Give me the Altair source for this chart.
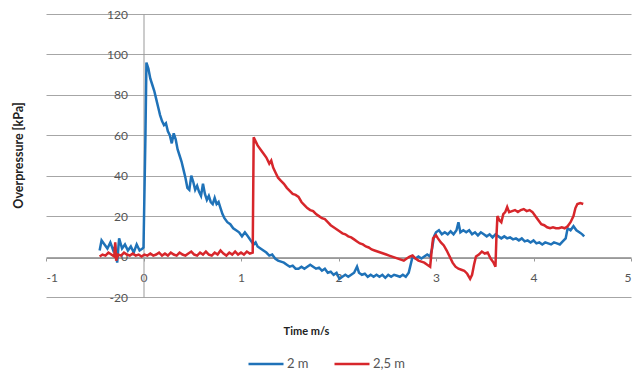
import altair as alt
import pandas as pd

# ---- data ----
t_2m = [-0.45, -0.43, -0.40, -0.37, -0.34, -0.31, -0.29, -0.27, -0.25, -0.22, -0.19, -0.16, -0.13, -0.10, -0.07, -0.04, -0.01, 0.00, 0.02, 0.03,
        0.05, 0.07, 0.09, 0.11, 0.13, 0.15, 0.17, 0.19, 0.21, 0.23, 0.25, 0.27, 0.29, 0.31, 0.33, 0.35, 0.37, 0.39, 0.41, 0.43,
        0.45, 0.47, 0.49, 0.51, 0.53, 0.55, 0.57, 0.59, 0.61, 0.63, 0.65, 0.67, 0.69, 0.71, 0.73, 0.75, 0.77, 0.79, 0.81, 0.83,
        0.86, 0.89, 0.92, 0.95, 0.98, 1.01, 1.04, 1.07, 1.10, 1.13, 1.15, 1.17, 1.20, 1.23, 1.26, 1.29, 1.32, 1.35, 1.38, 1.41,
        1.44, 1.47, 1.50, 1.53, 1.56, 1.59, 1.62, 1.65, 1.68, 1.71, 1.74, 1.77, 1.80, 1.83, 1.86, 1.89, 1.92, 1.95, 1.98, 2.01,
        2.04, 2.07, 2.10, 2.13, 2.16, 2.19, 2.21, 2.24, 2.27, 2.30, 2.33, 2.36, 2.39, 2.42, 2.45, 2.48, 2.51, 2.54, 2.57, 2.60,
        2.63, 2.66, 2.69, 2.72, 2.74, 2.76, 2.79, 2.82, 2.85, 2.88, 2.91, 2.94, 2.96, 2.98, 3.00, 3.03, 3.06, 3.09, 3.12, 3.15,
        3.18, 3.21, 3.23, 3.25, 3.28, 3.31, 3.34, 3.37, 3.40, 3.43, 3.46, 3.49, 3.52, 3.55, 3.58, 3.61, 3.64, 3.67, 3.70, 3.73,
        3.76, 3.79, 3.82, 3.85, 3.88, 3.91, 3.94, 3.97, 4.00, 4.03, 4.06, 4.09, 4.12, 4.15, 4.18, 4.21, 4.24, 4.27, 4.30, 4.33,
        4.35, 4.38, 4.41, 4.44, 4.47, 4.50, 4.52]
p_2m = [3, 8, 6, 4, 7, 3, 5, -3, 9, 4, 6, 3, 5, 2, 6, 3, 4, 4.5, 60, 96,
        93, 88, 85, 82, 78, 74, 70, 67, 65, 66, 62, 60, 56, 61, 58, 53, 50, 47, 43, 39,
        34, 33, 40, 37, 33, 35, 32, 30, 36, 31, 28, 30, 27, 26, 29, 26, 27, 24, 21, 19,
        17, 16, 14, 13, 12, 10, 12, 10, 8, 6, 7, 5, 4, 3, 2, 0.5, 1, -1, -2, -2.5,
        -3, -4, -5, -4.5, -6, -6, -5, -6, -5, -4, -5, -6, -5.5, -7, -6, -8, -7.5, -9, -8, -11,
        -10, -9, -10, -9, -8, -5, -8, -9, -8.5, -10, -9, -10, -9, -10, -9, -10.5, -9, -10, -9, -9.5,
        -10, -9, -10, -8, -4, 0, -1, 0, -1, 0, 1, 0, 4, 10, 12, 13, 11, 12, 11, 12.5,
        11, 13, 17, 12, 13, 12, 13, 11, 12, 10.5, 12, 11, 10, 11, 9.5, 11, 10, 9, 10, 9,
        9.5, 8.5, 9, 8, 9, 7.5, 8, 7, 8, 6.5, 7, 6, 7, 6.5, 6, 7, 6.5, 6, 7.5, 9,
        14, 13, 15, 13, 12, 11, 10]

t_25m = [-0.45, -0.42, -0.39, -0.36, -0.33, -0.30, -0.29, -0.28, -0.26, -0.23, -0.20, -0.17, -0.14, -0.11, -0.08, -0.05, -0.02,
         0.01, 0.04, 0.07, 0.10, 0.13, 0.16, 0.19, 0.22, 0.25, 0.28, 0.31, 0.34, 0.37, 0.40, 0.43, 0.46, 0.49, 0.52, 0.55,
         0.58, 0.61, 0.64, 0.67, 0.70, 0.73, 0.76, 0.79, 0.82, 0.85, 0.88, 0.91, 0.94, 0.97, 1.00, 1.03, 1.06, 1.09, 1.12,
         1.13, 1.15, 1.17, 1.20, 1.23, 1.26, 1.29, 1.31, 1.33, 1.35, 1.38, 1.41, 1.44, 1.47, 1.50, 1.53, 1.56, 1.59, 1.62,
         1.65, 1.68, 1.71, 1.74, 1.77, 1.80, 1.83, 1.86, 1.89, 1.92, 1.95, 1.98, 2.01, 2.04, 2.07, 2.10, 2.13, 2.16, 2.19,
         2.22, 2.25, 2.28, 2.31, 2.34, 2.37, 2.40, 2.43, 2.46, 2.49, 2.52, 2.55, 2.58, 2.61, 2.64, 2.67, 2.70, 2.73, 2.76,
         2.79, 2.82, 2.85, 2.88, 2.91, 2.94, 2.96, 2.97, 3.00, 3.02, 3.05, 3.08, 3.11, 3.14, 3.17, 3.20, 3.23, 3.26, 3.29,
         3.32, 3.35, 3.37, 3.39, 3.41, 3.44, 3.47, 3.50, 3.53, 3.56, 3.59, 3.61, 3.62, 3.63, 3.65, 3.67, 3.69, 3.71, 3.73,
         3.75, 3.78, 3.81, 3.84, 3.87, 3.90, 3.93, 3.96, 3.99, 4.02, 4.05, 4.08, 4.11, 4.14, 4.17, 4.20, 4.23, 4.26, 4.29,
         4.32, 4.35, 4.38, 4.41, 4.43, 4.45, 4.48, 4.51]
p_25m = [0, 1, 0.5, 2, 1, 0, 7, -2, 1, 0.5, 2, 1, 0.5, 1.5, 0.5, 1, 0,
         1, 0.5, 1.5, 0.5, 1, 2, 0.5, 1.5, 0.5, 2, 1, 0.5, 2, 1, 0.5, 1.5, 2.5, 1, 0.5,
         2, 1, 2.5, 1, 0.5, 2, 1, 3, 1.5, 0.5, 2, 1, 2.5, 1, 2, 1, 2.5, 1.5, 2,
         59, 57, 55, 53, 51, 49, 46, 47.5, 44, 42, 39, 37.5, 36, 34, 32.5, 31, 30.5, 29.5, 27,
         25.5, 24, 23, 22.5, 21, 20, 19, 18.5, 17, 15.5, 14.5, 13.5, 12.5, 11.5, 11, 10, 9.5, 8.5, 7.5,
         6.5, 6, 5, 4.5, 3.5, 3, 2.5, 2, 1.5, 1, 0.5, 0, -0.5, -1, -1.5, -2, -1, 0, 0.5,
         -1, -2, -2.5, -3, -4, -5, 5, 9, 10.5, 9, 7, 5.5, 3, 0, -3, -5, -6, -6.5, -7,
         -8.5, -11, -9, -4, 0, 1, 2.5, 1.5, 2, -1, -3, -5, 10, 20, 18, 17, 21, 22, 24.5,
         22, 22.5, 23, 22, 23, 23.5, 22.5, 23, 22, 20, 18, 16, 15.5, 14.5, 14, 14.5, 14, 14, 14.5,
         14, 15, 17, 20, 24, 26, 26.5, 26]

series_names = ["2 m", "2,5 m"]
series_colors = ["#1f72b8", "#d7262b"]

df = pd.concat([
    pd.DataFrame({"t": t_2m, "p": p_2m, "s": series_names[0], "o": range(len(t_2m))}),
    pd.DataFrame({"t": t_25m, "p": p_25m, "s": series_names[1], "o": range(len(t_25m))}),
], ignore_index=True)

FONT = "Lato"

chart = alt.Chart(df).mark_line(strokeWidth=2.5).encode(
    x=alt.X("t:Q",
            scale=alt.Scale(domain=[-1, 5], nice=False, zero=False),
            axis=alt.Axis(title="Time m/s", values=[-1, 0, 1, 2, 3, 4, 5],
                          labelExpr="'' + datum.value",
                          grid=False, offset=-39, domainColor="#999", tickColor="#999",
                          tickSize=3, labelPadding=11, labelFontSize=12, labelColor="#555",
                          labelFont=FONT, titleFont=FONT, titleFontSize=11, titleFontWeight="bold",
                          titleColor="#222", titleX=260, titleY=73, titleBaseline="middle")),
    y=alt.Y("p:Q",
            scale=alt.Scale(domain=[-20, 120], nice=False),
            axis=alt.Axis(title="Overpressure [kPa]", values=[-20, 0, 20, 40, 60, 80, 100, 120],
                          labelExpr="'' + datum.value",
                          grid=True, gridColor="#a6a6a6", gridWidth=1, offset=-97.5,
                          domainColor="#999", ticks=False, labelPadding=16,
                          labelFontSize=12, labelColor="#555", labelFont=FONT,
                          titleFont=FONT, titleFontSize=12.5, titleFontWeight="bold", titleColor="#222",
                          titleX=-125, titleY=141, titleBaseline="middle", titleAngle=270)),
    color=alt.Color("s:N", scale=alt.Scale(domain=series_names, range=series_colors),
                    legend=alt.Legend(title=None, orient="none", legendX=201, legendY=331,
                                      direction="horizontal", symbolType="stroke",
                                      symbolSize=1225, symbolStrokeWidth=2.5,
                                      labelFontSize=13, labelColor="#555", labelFont=FONT,
                                      labelOffset=2, columnPadding=20)),
    order="o:Q",
    detail="s:N",
).properties(
    width=585, height=283,
    autosize=alt.AutoSizeParams(type="none"),
    padding={"left": 38, "top": 6, "right": 5, "bottom": 74},
).configure_view(stroke=None)

chart.save("out.html", embed_options={"renderer": "svg", "actions": False})
